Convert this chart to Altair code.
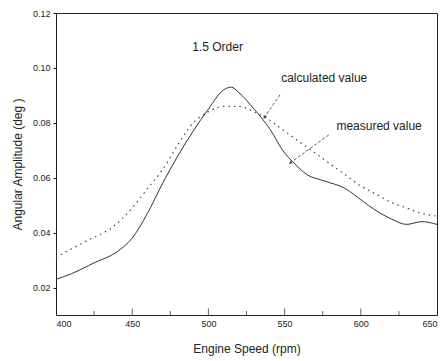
import altair as alt
import pandas as pd

speed_meas = [400, 410, 425, 440, 450, 460, 470, 480, 490, 500, 510, 515, 520, 530, 540, 550, 555, 565, 575, 590, 600, 610, 620, 630, 640, 650]
amp_meas = [0.023, 0.025, 0.029, 0.033, 0.038, 0.047, 0.058, 0.068, 0.077, 0.085, 0.092, 0.093, 0.091, 0.085, 0.078, 0.069, 0.066, 0.061, 0.059, 0.056, 0.052, 0.048, 0.045, 0.043, 0.044, 0.043]

speed_calc = [400, 420, 437, 450, 460, 470, 480, 490, 500, 510, 520, 530, 540, 550, 560, 570, 580, 590, 600, 610, 620, 630, 640, 650]
amp_calc = [0.031, 0.037, 0.042, 0.049, 0.056, 0.063, 0.072, 0.080, 0.084, 0.086, 0.086, 0.084, 0.081, 0.077, 0.073, 0.069, 0.065, 0.061, 0.057, 0.054, 0.051, 0.049, 0.047, 0.046]

x_ticks = [450, 500, 550, 600]
x_minor = [425, 475, 525, 575, 625]
y_ticks = [0.02, 0.04, 0.06, 0.08, 0.10, 0.12]

labels = ["1.5 Order", "calculated value", "measured value"]
label_x = [506, 576, 612]
label_y = [0.1076, 0.0964, 0.0789]

arrow_x = [[547, 537], [579, 554]]
arrow_y = [[0.0902, 0.0822], [0.0756, 0.0655]]
arrow_angle = [214, 234]

W, H = 381, 302
font = "Liberation Sans"

meas = pd.DataFrame({"x": speed_meas, "y": amp_meas})
calc = pd.DataFrame({"x": speed_calc, "y": amp_calc})

xs = alt.Scale(domain=[400, 650], nice=False, zero=False)
ys = alt.Scale(domain=[0.01, 0.12], nice=False, zero=False)

xax = alt.Axis(values=[400, 450, 500, 550, 600, 650], format="d", title="Engine Speed (rpm)",
               grid=False, ticks=False, domain=False, labelFont=font, labelFontSize=9,
               labelColor="#222", titleFont=font, titleFontSize=12, titleFontWeight="normal",
               titleColor="#222", titlePadding=15, labelPadding=4)
yax = alt.Axis(values=y_ticks, format=".2f", title="Angular Amplitude (deg )",
               grid=False, tickSize=3, tickColor="#222", domain=False, labelFont=font,
               labelFontSize=9, labelColor="#222", titleFont=font, titleFontSize=12,
               titleFontWeight="normal", titleColor="#222", titlePadding=8, labelPadding=3)

line_m = alt.Chart(meas).mark_line(color="#333", strokeWidth=1, interpolate="monotone").encode(
    x=alt.X("x:Q", scale=xs, axis=xax), y=alt.Y("y:Q", scale=ys, axis=yax))
line_c = alt.Chart(calc).mark_line(color="#444", strokeWidth=1.2, strokeDash=[1.5, 4], interpolate="monotone").encode(
    x=alt.X("x:Q", scale=xs), y=alt.Y("y:Q", scale=ys))

ticks_df = pd.DataFrame({"x": x_ticks})
ticks = alt.Chart(ticks_df).mark_tick(color="#222", size=7, thickness=1).encode(
    x=alt.X("x:Q", scale=xs), y=alt.value(H - 3))
minor_df = pd.DataFrame({"x": x_minor})
minor = alt.Chart(minor_df).mark_tick(color="#222", size=4, thickness=1).encode(
    x=alt.X("x:Q", scale=xs), y=alt.value(H - 2))

lab_df = pd.DataFrame({"t": labels, "x": label_x, "y": label_y})
text = alt.Chart(lab_df).mark_text(font=font, fontSize=12, color="#222").encode(
    x=alt.X("x:Q", scale=xs), y=alt.Y("y:Q", scale=ys), text="t:N")

arr_rows = []
for i, (ax_, ay_, ang) in enumerate(zip(arrow_x, arrow_y, arrow_angle)):
    arr_rows.append({"id": i, "x": ax_[0], "y": ay_[0], "x2": ax_[1], "y2": ay_[1], "a": ang})
arr_df = pd.DataFrame(arr_rows)
arrows = alt.Chart(arr_df).mark_rule(color="#333", strokeWidth=0.8, strokeDash=[3, 2]).encode(
    x=alt.X("x:Q", scale=xs), y=alt.Y("y:Q", scale=ys), x2="x2:Q", y2="y2:Q")
heads = alt.Chart(arr_df).mark_point(shape="triangle", filled=True, color="#222", size=16).encode(
    x=alt.X("x2:Q", scale=xs), y=alt.Y("y2:Q", scale=ys),
    angle=alt.Angle("a:Q", scale=None))

chart = alt.layer(line_c, line_m, ticks, minor, arrows, heads, text).properties(
    width=W, height=H,
    autosize=alt.AutoSizeParams(type="none"),
    padding={"left": 56, "top": 13, "right": 8, "bottom": 46},
    background="white",
).configure_view(stroke="#222", strokeWidth=1)

chart.save("out.html", embed_options={"renderer": "svg", "actions": False})
